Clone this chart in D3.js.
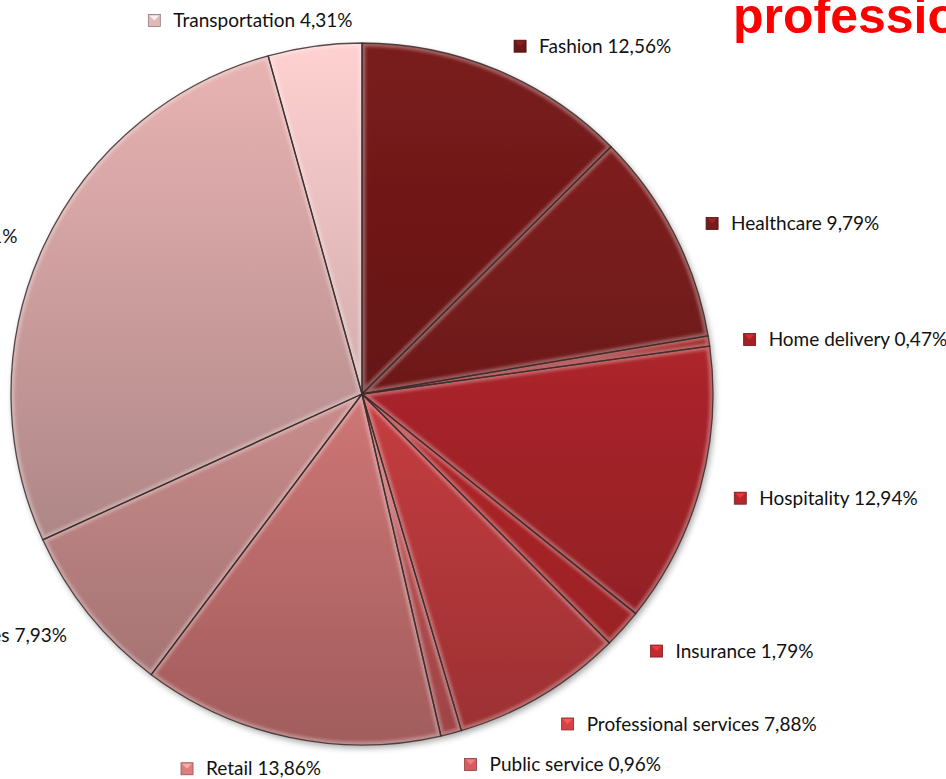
<!DOCTYPE html>
<head>
  <meta charset="utf-8">
  <script src="https://d3js.org/d3.v7.min.js"></script>
  <style>
    body { margin: 0; background: #fff; }
    svg { display: block; }
    .lbl { font-family: Lato, 'Open Sans', sans-serif; font-size: 19px; fill: #111; }
    .title { font-family: 'Liberation Sans', Arial, sans-serif; font-weight: bold; font-size: 50px; fill: #ff0000; }
  </style>
</head>

<body>
  <svg width="946" height="779"></svg>

  <script>
    // data (clockwise from 12 o'clock)
    const sectors = ['Fashion', 'Healthcare', 'Home delivery', 'Hospitality', 'Insurance',
      'Professional services', 'Public service', 'Retail', 'Services', 'Technology', 'Transportation'];
    const shares = [12.56, 9.79, 0.47, 12.94, 1.79, 7.88, 0.96, 13.86, 7.93, 27.51, 4.31];
    const palette = ['#641616', '#6d1919', '#981f22', '#a8242a', '#b5272b', '#c63d40',
      '#c85658', '#cf7676', '#c98c8c', '#c09494', '#d2acac'];
    const titleText = 'profession';

    const svg = d3.select('svg');
    const cx = 362, cy = 394, r = 351;
    const defs = svg.append('defs');

    const shadow = defs.append('filter').attr('id', 'shadow')
      .attr('x', '-10%').attr('y', '-10%').attr('width', '120%').attr('height', '120%');
    shadow.append('feDropShadow').attr('dx', 2).attr('dy', 3).attr('stdDeviation', 3)
      .attr('flood-color', '#000').attr('flood-opacity', 0.35);
    defs.append('filter').attr('id', 'soft')
      .append('feGaussianBlur').attr('stdDeviation', 1.4);

    const data = sectors.map((name, i) => ({ name, value: shares[i], color: palette[i] }));
    const pie = d3.pie().sort(null).value(d => d.value);
    const arcs = pie(data);
    const arc = d3.arc().innerRadius(0).outerRadius(r);
    const labelArc = d3.arc().innerRadius(380).outerRadius(380);

    // vertical shading per slice, lighter at the top of the pie
    arcs.forEach((a, i) => {
      const c = d3.color(a.data.color);
      const grad = defs.append('linearGradient').attr('id', 'g' + i)
        .attr('gradientUnits', 'userSpaceOnUse')
        .attr('x1', 0).attr('x2', 0).attr('y1', -r).attr('y2', r);
      grad.append('stop').attr('offset', 0).attr('stop-color', c.brighter(0.55));
      grad.append('stop').attr('offset', 0.5).attr('stop-color', c);
      grad.append('stop').attr('offset', 1).attr('stop-color', c.darker(0.7));
      defs.append('clipPath').attr('id', 'c' + i).append('path').attr('d', arc(a));
    });

    const g = svg.append('g').attr('transform', `translate(${cx},${cy})`);

    g.append('g').attr('filter', 'url(#shadow)')
      .selectAll('path').data(arcs).enter().append('path')
      .attr('d', arc)
      .attr('fill', (d, i) => `url(#g${i})`);

    // bevel highlight along each slice edge
    g.append('g').selectAll('path').data(arcs).enter().append('path')
      .attr('d', arc)
      .attr('clip-path', (d, i) => `url(#c${i})`)
      .attr('fill', 'none')
      .attr('stroke', '#fff')
      .attr('stroke-opacity', 0.3)
      .attr('stroke-width', 7)
      .attr('filter', 'url(#soft)');

    g.append('g').selectAll('path').data(arcs).enter().append('path')
      .attr('d', arc)
      .attr('fill', 'none')
      .attr('stroke', '#3b2c2c')
      .attr('stroke-opacity', 0.85)
      .attr('stroke-width', 1.3)
      .attr('stroke-linejoin', 'round');

    // labels with little legend keys
    const fmt = v => d3.format('.2f')(v).replace('.', ',');
    const labels = g.append('g');
    arcs.forEach(a => {
      const [ax, ay] = labelArc.centroid(a);
      const mid = (a.startAngle + a.endAngle) / 2;
      const lg = labels.append('g');
      const t = lg.append('text').attr('class', 'lbl')
        .attr('x', 25).attr('dy', '0.35em')
        .text(`${a.data.name} ${fmt(a.data.value)}%`);
      const w = 25 + t.node().getComputedTextLength();
      const left = Math.sin(mid) >= 0
        ? ax + 6
        : ax + 45 * Math.pow(Math.cos(mid), 8) - w;
      lg.attr('transform', `translate(${left},${ay + 3})`);
      const c = d3.color(a.data.color);
      lg.append('rect').attr('x', 0).attr('y', -6).attr('width', 12).attr('height', 12)
        .attr('fill', c.brighter(0.2)).attr('stroke', c.darker(1)).attr('stroke-width', 0.8);
      lg.append('path').attr('d', 'M1,-5L11,-5L6,0Z')
        .attr('fill', c.brighter(1.2)).attr('opacity', 0.8);
    });

    svg.append('text').attr('class', 'title')
      .attr('x', 733).attr('y', 33)
      .text(titleText);
  </script>
</body>
